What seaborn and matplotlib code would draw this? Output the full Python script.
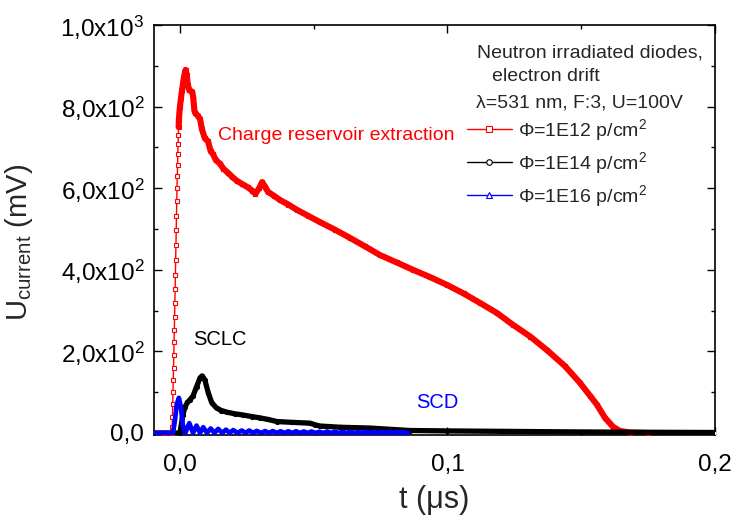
import matplotlib
matplotlib.use("Agg")
import matplotlib.pyplot as plt
from matplotlib.lines import Line2D
from matplotlib.ticker import MultipleLocator, FixedLocator
import seaborn as sns
import pandas as pd

# ---------------- data (t in µs, U in mV) ----------------
t_red = [-0.0097, -0.0060, -0.0030, -0.0029, -0.0028, -0.0027, -0.0026, -0.0025,
         -0.0024, -0.0023, -0.0022, -0.0021, -0.0020, -0.0019, -0.0018, -0.0017,
         -0.0016, -0.0015, -0.0014, -0.0013, -0.0012, -0.0011, -0.0010, -0.0009,
         -0.0008, -0.0007, -0.0006, -0.0005, -0.0004, -0.0002, 0.0000, 0.0004,
         0.0008, 0.0012, 0.0016, 0.0021, 0.0025, 0.0030, 0.0035, 0.0041, 0.0046,
         0.0050, 0.0054, 0.0058, 0.0066, 0.0075, 0.0082, 0.0093, 0.0105, 0.0115,
         0.0123, 0.0135, 0.0150, 0.0162, 0.0179, 0.0195, 0.0213, 0.0233, 0.0254,
         0.0270, 0.0282, 0.0296, 0.0307, 0.0318, 0.0329, 0.0350, 0.0374, 0.0405,
         0.0437, 0.0480, 0.0523, 0.0580, 0.0636, 0.0690, 0.0748, 0.0810, 0.0871,
         0.0935, 0.0998, 0.1060, 0.1121, 0.1185, 0.1245, 0.1310, 0.1372, 0.1439,
         0.1495, 0.1533, 0.1559, 0.1589, 0.1619, 0.1645, 0.1682, 0.1750, 0.2000]
u_red = [0, 0, 0, 14, 40, 70, 100, 131,
         160, 190, 222, 253, 285, 318, 352, 388,
         424, 460, 497, 533, 568, 600, 630, 658,
         684, 708, 730, 750, 768, 785, 800, 822,
         840, 860, 876, 890, 878, 852, 840, 838, 836,
         820, 790, 784, 778, 770, 745, 722, 715, 690,
         684, 668, 660, 648, 638, 628, 618, 610, 602,
         594, 586, 600, 615, 604, 591, 582, 571, 560,
         547, 532, 517, 498, 478, 458, 436, 418, 400,
         382, 363, 342, 319, 294, 265, 236, 203, 164,
         123, 91, 69, 37, 15, 5, 1, 0, 0]

t_blk = [-0.0097, 0.0000, 0.0005, 0.0011, 0.0019, 0.0028, 0.0037, 0.0049, 0.0062,
         0.0075, 0.0083, 0.0093, 0.0106, 0.0119, 0.0137, 0.0155, 0.0175, 0.0205,
         0.0236, 0.0270, 0.0299, 0.0330, 0.0362, 0.0420, 0.0486, 0.0505, 0.0523,
         0.0600, 0.0710, 0.0860, 0.1000, 0.1200, 0.1500, 0.1800, 0.2000]
u_blk = [0, 0, 20, 45, 64, 75, 81, 91, 113,
         135, 140, 130, 98, 74, 61, 55, 51, 47,
         44, 40, 37, 33, 28, 26, 24, 20, 17,
         14, 12, 6, 5, 4, 2.5, 1.5, 1]

t_blu = [-0.0097, -0.0026, -0.0019, -0.0012, -0.0004, 0.0004, 0.0010, 0.0020,
         0.0035, 0.0049, 0.0062, 0.0075, 0.0087, 0.0101, 0.0115, 0.0129, 0.0143,
         0.0158, 0.0172, 0.0186, 0.0199, 0.0215, 0.0231, 0.0245, 0.0259, 0.0273,
         0.0287, 0.0303, 0.0318, 0.0333, 0.0347, 0.0362, 0.0376, 0.0391, 0.0405,
         0.0420, 0.0434, 0.0449, 0.0463, 0.0478, 0.0492, 0.0507, 0.0521, 0.0536,
         0.0550, 0.0565, 0.0579, 0.0594, 0.0608, 0.0623, 0.0637, 0.0652, 0.0666,
         0.0681, 0.0695, 0.0710, 0.0724, 0.0739, 0.0753, 0.0768, 0.0782, 0.0797,
         0.0811, 0.0826, 0.0840, 0.0852]
u_blu = [0, 0, 30, 70, 86, 62, 22, 0,
         24, 0, 18, 0, 14, 0, 11, 0, 10,
         0, 8, 0, 7, 0, 6, 0, 6, 0,
         5, 0, 4.5, 0, 4.5, 0, 4, 0, 4,
         0, 4, 0, 3.5, 0, 3.5, 0, 3, 0,
         3.5, 0, 3, 0, 3, 0, 3, 0, 2.5,
         0, 3, 0, 2.5, 0, 2.5, 0, 2.5, 0,
         2.5, 0, 2, 0]

series_labels = ["\u03a6=1E12 p/cm$^2$", "\u03a6=1E14 p/cm$^2$", "\u03a6=1E16 p/cm$^2$"]
x_ticks = [0.0, 0.1, 0.2]
x_ticklabels = ["0,0", "0,1", "0,2"]
y_ticks = [0, 200, 400, 600, 800, 1000]
y_ticklabels = ["0,0", "2,0x10$^2$", "4,0x10$^2$", "6,0x10$^2$", "8,0x10$^2$", "1,0x10$^3$"]
header_lines = ["Neutron irradiated diodes,", "electron drift", "\u03bb=531 nm, F:3, U=100V"]

# ---------------- style ----------------
sns.set_style("ticks")
plt.rcParams["font.family"] = ["Liberation Sans", "DejaVu Sans"]
plt.rcParams["mathtext.fontset"] = "custom"
plt.rcParams["mathtext.rm"] = "Liberation Sans"
plt.rcParams["mathtext.it"] = "Liberation Sans:italic"
plt.rcParams["mathtext.default"] = "regular"

RED, BLACK, BLUE = "#ff0000", "#000000", "#0000ff"

fig = plt.figure(figsize=(7.37, 5.22), dpi=100)
ax = fig.add_axes([154 / 737, 1 - 435 / 522, (715 - 154) / 737, (435 - 25) / 522])

df_red = pd.DataFrame({"t": t_red, "u": u_red})
df_blk = pd.DataFrame({"t": t_blk, "u": u_blk})
df_blu = pd.DataFrame({"t": t_blu, "u": u_blu})

# red: thin line with hollow squares, thick overlay where the points are dense
sns.lineplot(data=df_red, x="t", y="u", ax=ax, color=RED, lw=1.0, marker="s",
             markersize=3.2, markerfacecolor="white", markeredgecolor=RED,
             markeredgewidth=0.8, estimator=None, sort=False, zorder=3)
sns.lineplot(data=df_red[df_red["t"] >= -0.0005], x="t", y="u", ax=ax, color=RED,
             lw=4.4, estimator=None, sort=False, zorder=3.1,
             solid_joinstyle="round", solid_capstyle="round")
# black
sns.lineplot(data=df_blk, x="t", y="u", ax=ax, color=BLACK, lw=3.8, marker="o",
             markersize=3.0, markerfacecolor="none", markeredgecolor=BLACK,
             estimator=None, sort=False, zorder=4, solid_joinstyle="round")
# blue
sns.lineplot(data=df_blu, x="t", y="u", ax=ax, color=BLUE, lw=3.4,
             estimator=None, sort=False, zorder=5, solid_joinstyle="round")

ax.set_xlim(-0.0097, 0.2)
ax.set_ylim(-5, 1000)

ax.xaxis.set_major_locator(FixedLocator(x_ticks))
ax.set_xticklabels(x_ticklabels)
ax.xaxis.set_minor_locator(MultipleLocator(0.05))
ax.yaxis.set_major_locator(FixedLocator(y_ticks))
ax.set_yticklabels(y_ticklabels)
ax.yaxis.set_minor_locator(MultipleLocator(100))

ax.tick_params(which="both", direction="in", top=True, right=True, width=1.0,
               labelsize=17.5, colors="black")
ax.tick_params(which="major", length=6)
ax.tick_params(which="minor", length=3)
ax.tick_params(axis="x", which="major", pad=14)
ax.tick_params(axis="y", which="major", pad=7)
for s in ax.spines.values():
    s.set_linewidth(1.2)
    s.set_color("black")

ax.set_xlabel("t (\u03bcs)", fontsize=22)
ax.set_ylabel("U$_{current}$ (mV)", fontsize=21)
ax.xaxis.set_label_coords(0.5, -0.122)
ax.yaxis.set_label_coords(-0.212, 0.47)

# annotations
ax.text(0.0142, 728, "Charge reservoir extraction", color=RED, fontsize=14,
        ha="left", va="center")
ax.text(0.0150, 228, "SCLC", color=BLACK, fontsize=14.5, ha="center", va="center")
ax.text(0.0961, 74, "SCD", color=BLUE, fontsize=14.5, ha="center", va="center")

ax.text(0.1533, 932, header_lines[0], fontsize=14, ha="center", va="center")
ax.text(0.1368, 873, header_lines[1], fontsize=14, ha="center", va="center")
ax.text(0.1495, 810, header_lines[2], fontsize=14, ha="center", va="center")

handles = [
    Line2D([], [], color=RED, lw=1.0, marker="s", markersize=4, markerfacecolor="white",
           markeredgecolor=RED, markeredgewidth=0.8),
    Line2D([], [], color=BLACK, lw=1.0, marker="o", markersize=4, markerfacecolor="white",
           markeredgecolor=BLACK, markeredgewidth=0.8),
    Line2D([], [], color=BLUE, lw=1.0, marker="^", markersize=4, markerfacecolor="white",
           markeredgecolor=BLUE, markeredgewidth=0.8),
]
ax.legend(handles, series_labels, loc="upper left", bbox_to_anchor=(0.558, 0.775),
          frameon=False, fontsize=14, handlelength=2.3, handletextpad=0.3,
          labelspacing=0.35, borderpad=0, borderaxespad=0)

fig.savefig("out.png", dpi=100)
